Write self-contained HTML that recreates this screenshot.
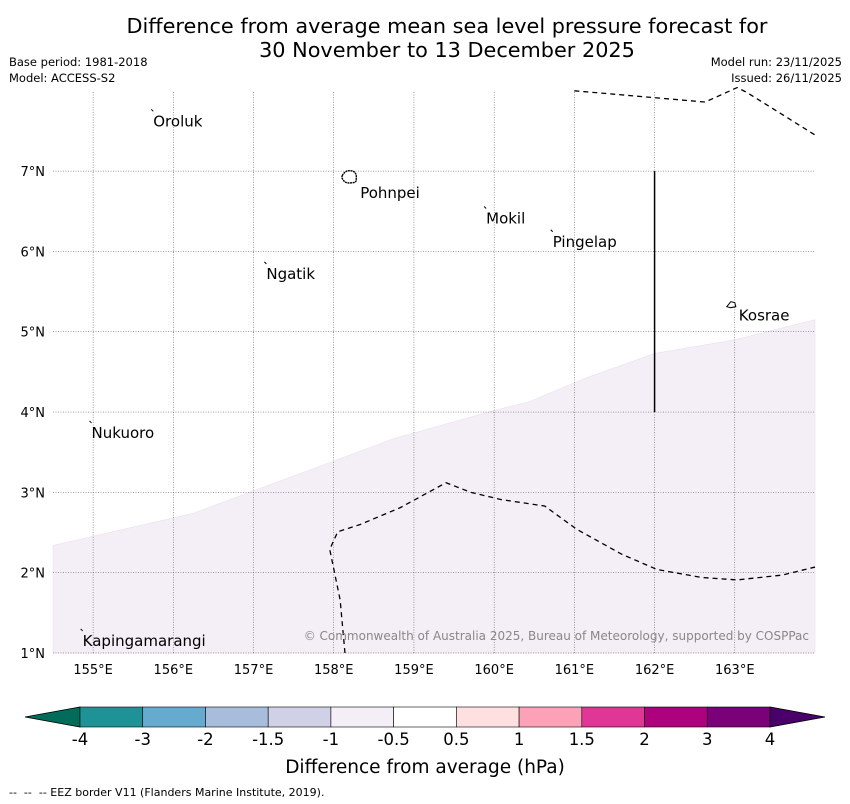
<!DOCTYPE html>
<html><head><meta charset="utf-8">
<style>
body{margin:0;background:#fff;font-family:"DejaVu Sans","Liberation Sans",sans-serif;}
#wrap{position:relative;width:850px;height:804px;overflow:hidden;}
.t{position:absolute;white-space:nowrap;}
</style></head>
<body>
<div id="wrap">
<div class="t" style="left:0;width:894px;top:14px;text-align:center;font-size:20.8px;line-height:24px;color:#000">Difference from average mean sea level pressure forecast for<br>30 November to 13 December 2025</div>
<div class="t" style="left:9px;top:55px;font-size:11.5px">Base period: 1981-2018</div>
<div class="t" style="left:9px;top:71px;font-size:11.5px">Model: ACCESS-S2</div>
<div class="t" style="right:8px;top:55px;font-size:11.5px">Model run: 23/11/2025</div>
<div class="t" style="right:8px;top:71px;font-size:11.5px">Issued: 26/11/2025</div>
<div class="t" style="left:9px;top:786px;font-size:11px">--&nbsp; --&nbsp; -- EEZ border V11 (Flanders Marine Institute, 2019).</div>
<svg id="svg" width="850" height="804" style="position:absolute;left:0;top:0"></svg>
</div>
<script>
const lonTicks=[155,156,157,158,159,160,161,162,163];
const latTicks=[1,2,3,4,5,6,7];
const shadeBoundaryLon=[154.5,156.25,157,158,158.75,160,160.44,161.13,162,163,164];
const shadeBoundaryLat=[2.34,2.74,3.02,3.39,3.67,4.02,4.13,4.42,4.73,4.9,5.15];
const eezTopLon=[161,162.63,163.03,163.15,164];
const eezTopLat=[8,7.86,8.04,7.98,7.45];
const eezBotLon=[158.14,158.08,157.95,158.05,158.33,158.83,159.4,159.71,160.09,160.63,161.03,161.59,162.03,162.59,163.03,163.59,164];
const eezBotLat=[1,1.66,2.29,2.51,2.6,2.81,3.12,3,2.91,2.83,2.54,2.23,2.04,1.94,1.91,1.97,2.07];
const islands=[["Oroluk",155.75,7.62],["Pohnpei",158.33,6.73],["Mokil",159.9,6.41],["Pingelap",160.73,6.12],["Ngatik",157.16,5.72],["Kosrae",163.05,5.20],["Nukuoro",154.98,3.74],["Kapingamarangi",154.87,1.15]];
const cbLevels=["-4","-3","-2","-1.5","-1","-0.5","0.5","1","1.5","2","3","4"];
const cbColors=["#1f9298","#67aad0","#a8bddb","#d0d1e6","#f4eef6","#ffffff","#fde0df","#fba2b9","#e03797","#ae017e","#7a0177"];
const cbUnder="#016c59", cbOver="#49006a";

const X0=53,X1=815,Y0=92,Y1=653;
const lonMin=154.5,lonMax=164,latMin=1,latMax=7.985;
const x=l=>X0+(l-lonMin)/(lonMax-lonMin)*(X1-X0);
const y=l=>Y1-(l-latMin)/(latMax-latMin)*(Y1-Y0);
const svg=document.getElementById('svg');
const NS='http://www.w3.org/2000/svg';
function mk(tag,attrs,parent){const e=document.createElementNS(NS,tag);for(const k in attrs)e.setAttribute(k,attrs[k]);(parent||svg).appendChild(e);return e;}

let d='M'+x(lonMin)+','+y(latMin);
shadeBoundaryLon.forEach((l,i)=>d+=' L'+x(l)+','+y(shadeBoundaryLat[i]));
d+=' L'+x(lonMax)+','+y(latMin)+' Z';
const shade=mk('path',{d:d,fill:'#f4eef6',stroke:'#e8dcec','stroke-width':0.5});



lonTicks.forEach(l=>{const g=mk('line',{x1:x(l),x2:x(l),y1:Y0,y2:Y1,stroke:'#444','stroke-width':0.5,'stroke-dasharray':'1,1.5'});


const t=mk('text',{x:x(l),y:674,'font-size':13,'text-anchor':'middle','font-family':'DejaVu Sans, sans-serif'});t.textContent=l+'°E';

});
latTicks.forEach(l=>{const g=mk('line',{x1:X0,x2:X1,y1:y(l),y2:y(l),stroke:'#444','stroke-width':0.5,'stroke-dasharray':'1,1.5'});


const t=mk('text',{x:45,y:y(l)+5,'font-size':13,'text-anchor':'end','font-family':'DejaVu Sans, sans-serif'});t.textContent=l+'°N';

});

function poly(lons,lats,name){let p='';lons.forEach((l,i)=>p+=(i?' L':'M')+x(l)+','+y(lats[i]));
const e=mk('path',{d:p,fill:'none',stroke:'#000','stroke-width':1.3,'stroke-dasharray':'5,4'});

}
poly(eezTopLon,eezTopLat,'eez-border-north');
poly(eezBotLon,eezBotLat,'eez-border-south');
const sl=mk('line',{x1:x(162),x2:x(162),y1:y(7),y2:y(4),stroke:'#000','stroke-width':1.5});



islands.forEach(([n,lo,la])=>{
 const px=x(lo),py=y(la);
 if(n==='Pohnpei'){const c=mk('path',{d:`M${px-18},${py-17} q3,-6 9,-5 q6,1 5,8 q1,4 -5,4 q-6,1 -8,-3 q-2,-2 -1,-4z`,fill:'none',stroke:'#000','stroke-width':1.4,'stroke-dasharray':'2,0.6'});
  
  }
 else if(n==='Kosrae'){const c=mk('path',{d:`M${px-12},${py-9} l4,-5 l4,1 l1,4 l-5,1 z`,fill:'none',stroke:'#000','stroke-width':1});
  
  }
 else {const c=mk('line',{x1:px-2,y1:py-12,x2:px,y2:py-10,stroke:'#000','stroke-width':1});
  
  }
 const t=mk('text',{x:px,y:py+5,'font-size':15,'font-family':'DejaVu Sans, sans-serif'});t.textContent=n;
 
 
});
const cp=mk('text',{x:809,y:640,'font-size':12,'text-anchor':'end',fill:'#888','font-family':'DejaVu Sans, sans-serif'});
cp.textContent='© Commonwealth of Australia 2025, Bureau of Meteorology, supported by COSPPac';



const CB0=80,CB1=770,CBY=707,CBH=20,n=cbColors.length,w=(CB1-CB0)/n;
const u=mk('polygon',{points:`25,${CBY+CBH/2} ${CB0},${CBY} ${CB0},${CBY+CBH}`,fill:cbUnder,stroke:'#000','stroke-width':0.8});


const o=mk('polygon',{points:`825,${CBY+CBH/2} ${CB1},${CBY} ${CB1},${CBY+CBH}`,fill:cbOver,stroke:'#000','stroke-width':0.8});


cbColors.forEach((c,i)=>{const r=mk('rect',{x:CB0+i*w,y:CBY,width:w,height:CBH,fill:c,stroke:'#000','stroke-width':0.6});

});
cbLevels.forEach((lv,i)=>{const t=mk('text',{x:CB0+i*w,y:745,'font-size':16.5,'text-anchor':'middle','font-family':'DejaVu Sans, sans-serif'});t.textContent=lv;

});
const ct=mk('text',{x:425,y:773,'font-size':18.5,'text-anchor':'middle','font-family':'DejaVu Sans, sans-serif'});
ct.textContent='Difference from average (hPa)';


</script>
</body></html>
